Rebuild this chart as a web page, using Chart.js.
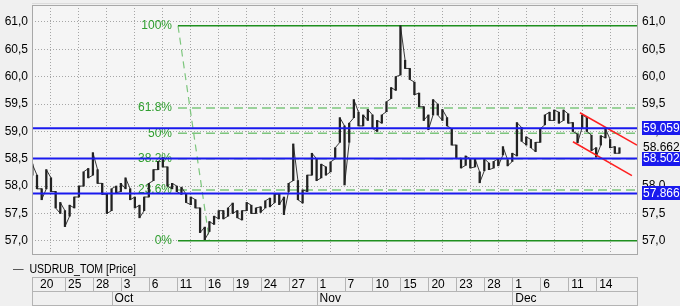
<!DOCTYPE html>
<html><head><meta charset="utf-8">
<script src="https://cdn.jsdelivr.net/npm/chart.js@4.4.0/dist/chart.umd.min.js"></script>
<style>
html,body{margin:0;padding:0;background:#f0f0f0;}
#wrap{position:relative;width:680px;height:306px;overflow:hidden;}
#legend{position:absolute;left:13px;top:262px;font:12px "Liberation Sans",Arial,sans-serif;color:#000;white-space:nowrap;transform:scaleX(0.88);transform-origin:0 0;}
#legend span{color:#444;}
</style></head><body>
<div id="wrap"><canvas id="c" width="680" height="306"></canvas><div id="legend"><span>—</span>&nbsp;&nbsp;USDRUB_TOM [Price]</div></div>
<script>
// ---- data ----
const dayLabels = ['20','25','28','3','6','11','16','19','24','27','1','7','10','15','20','23','28','1','6','11','14'];
const dayTicks = [0,3,6,9,12,15,18,21,24,27,30,33,36,39,42,45,48,51,54,57,60]; // trading-day index
const monthLabels = ['Oct','Nov','Dec'];
const monthTicks = [8,30,51];
const yTicks = [57,57.5,58,58.5,59,59.5,60,60.5,61];
const barStart = -0.5, barStep = 0.5; // half trading day per bar
const lows = [58.2,57.95,57.75,57.95,57.9,57.6,57.5,57.26,57.45,57.6,57.8,58.0,58.15,58.2,58.05,57.85,57.5,57.55,57.88,57.9,57.95,57.75,57.6,57.42,57.55,57.8,58.1,58.3,58.35,58.0,57.95,57.9,
57.85,57.7,57.66,57.6,57.15,57.02,57.17,57.3,57.4,57.4,57.45,57.5,57.42,57.38,57.55,57.5,57.5,57.52,57.6,57.62,57.7,57.66,57.48,57.9,58.1,57.75,57.69,57.9,58.2,58.1,58.15,
58.2,58.26,58.5,58.8,58.02,58.8,59.25,59.1,59.1,59.2,59.05,59.0,59.15,59.36,59.6,59.75,60.03,60.15,59.95,59.67,59.45,59.2,59.03,59.3,59.3,59.2,59.1,58.75,58.5,58.33,58.38,58.33,
58.35,58.06,58.28,58.3,58.33,58.37,58.57,58.37,58.45,58.55,58.82,58.75,58.7,58.63,58.8,59.12,59.2,59.2,59.15,59.2,59.15,59.0,58.79,59.07,59.0,58.65,58.53,58.75,58.88,58.7,58.6,58.6];
const highs = [58.4,58.2,57.95,58.3,58.15,57.9,57.7,57.55,57.65,57.8,58.0,58.26,58.32,58.61,58.3,58.05,57.85,57.95,58.0,58.05,58.15,57.95,57.8,57.65,57.8,58.05,58.3,58.45,58.52,58.35,58.05,58.0,
57.98,57.85,57.8,57.75,57.6,57.25,57.35,57.45,57.55,57.55,57.6,57.69,57.55,57.55,57.7,57.65,57.6,57.62,57.73,57.78,57.85,57.85,57.8,58.05,58.77,58.1,57.93,58.2,58.6,58.5,58.4,
58.35,58.44,58.7,59.25,59.1,59.15,59.58,59.35,59.3,59.4,59.3,59.2,59.3,59.54,59.8,60.0,60.93,60.3,60.15,59.9,59.7,59.45,59.3,59.58,59.5,59.4,59.25,59.05,58.75,58.51,58.55,58.5,
58.5,58.26,58.5,58.42,58.45,58.5,58.72,58.48,58.6,59.16,59.07,58.9,58.85,58.8,59.05,59.3,59.35,59.39,59.35,59.39,59.32,59.16,58.95,59.3,59.25,58.93,58.7,58.92,59.05,58.85,58.72,58.7];
const levels = [59.059, 58.502, 57.866];
const lastPrice = 58.662;
const fibLow = 57.0, fibHigh = 60.93;
const fibStart = 15.13, fibDiagEnd = 18.5;
const fibPercents = [0, 23.6, 38.2, 50, 61.8, 100];
const channelUpper = [[58.26, 59.34], [64.38, 58.75]];
const channelLower = [[57.51, 58.81], [63.84, 58.19]];
const xMin = -0.536, xMax = 64.49, yMin = 56.74, yMax = 61.31;

// ---- build ----
const FONT = '"Liberation Sans", Arial, sans-serif';
const fibVal = p => fibLow + (fibHigh - fibLow) * p / 100;
const seg = (x0, y0, x1, y1) => [{x:x0, y:y0}, {x:x1, y:y1}];
const lineDs = (data, color, width, dash, order) => ({type:'line', data, borderColor:color, borderWidth:width, borderDash:dash, pointRadius:0, fill:false, order, tension:0});

// price trace: walk through each bar's low/high, entering from the side nearer the previous point
const trace = [];
let prev = null;
lows.forEach((lo, i) => {
  const hi = highs[i], x = barStart + i * barStep;
  const downFirst = prev !== null && Math.abs(prev - hi) < Math.abs(prev - lo);
  const a = downFirst ? hi : lo, b = downFirst ? lo : hi;
  trace.push({x, y:a}, {x, y:b});
  prev = b;
});

const datasets = [];
datasets.push({type:'bar', data: lows.map((lo,i)=>({x: barStart + i*barStep, y:[lo, highs[i]]})), backgroundColor:'#222', borderWidth:0, barThickness:1.6, order:2});
datasets.push(lineDs(trace, '#222', 0.9, [], 2));
levels.forEach(v => datasets.push(lineDs(seg(xMin, v, xMax, v), '#1a1aee', 2, [], 0)));
datasets.push(lineDs(seg(channelUpper[0][0], channelUpper[0][1], channelUpper[1][0], channelUpper[1][1]), '#ff2020', 1.5, [], 1));
datasets.push(lineDs(seg(channelLower[0][0], channelLower[0][1], channelLower[1][0], channelLower[1][1]), '#ff2020', 1.5, [], 1));
fibPercents.forEach(p => {
  const solid = (p === 0 || p === 100);
  datasets.push(lineDs(seg(fibStart, fibVal(p), xMax, fibVal(p)), solid ? '#1f8f1f' : '#7dc67d', 1.5, solid ? [] : [9,5], 3));
});
datasets.push(lineDs(seg(fibStart, fibHigh, fibDiagEnd, fibLow), '#7dc67d', 1.2, [7,5], 3));

const fmt = v => v.toFixed(1).replace('.', ',');

const decor = {
  id: 'decor',
  beforeDraw(chart) {
    const {ctx, chartArea:a} = chart;
    ctx.save();
    ctx.fillStyle = '#f5f5f5';
    ctx.fillRect(a.left, a.top, a.right - a.left, a.bottom - a.top);
    ctx.restore();
  },
  beforeDatasetsDraw(chart) {
    const {ctx} = chart, xs = chart.scales.x, ys = chart.scales.y;
    ctx.save();
    ctx.font = '12px ' + FONT;
    ctx.fillStyle = '#2e9e2e';
    ctx.textAlign = 'right'; ctx.textBaseline = 'middle';
    const xp = xs.getPixelForValue(fibStart) - 6;
    fibPercents.forEach(p => ctx.fillText(p + '%', xp, ys.getPixelForValue(fibVal(p))));
    ctx.restore();
  },
  afterDraw(chart) {
    const {ctx, chartArea:a} = chart, xs = chart.scales.x, x2 = chart.scales.x2, ys = chart.scales.y;
    ctx.save();
    // plot border
    ctx.strokeStyle = '#a8a8a8'; ctx.lineWidth = 1;
    ctx.strokeRect(a.left + 0.5, a.top + 0.5, a.right - a.left - 1, a.bottom - a.top - 1);
    ctx.strokeStyle = '#dcdcdc';
    ctx.beginPath(); ctx.moveTo(a.left, a.top - 1.5); ctx.lineTo(a.right, a.top - 1.5); ctx.stroke();
    // date table
    const r1 = Math.round(xs.bottom - 14) + 0.5, r2 = Math.round(xs.bottom) + 0.5, r3 = Math.round(x2.bottom) - 0.5;
    ctx.strokeStyle = '#b4b4b4';
    ctx.beginPath();
    [r1, r2, r3].forEach(y => { ctx.moveTo(a.left, y); ctx.lineTo(a.right, y); });
    ctx.moveTo(a.left + 0.5, r1); ctx.lineTo(a.left + 0.5, r3);
    ctx.moveTo(a.right - 0.5, r1); ctx.lineTo(a.right - 0.5, r3);
    dayTicks.forEach(v => { const p = Math.round(xs.getPixelForValue(v)) + 0.5; if (p > a.left + 6) { ctx.moveTo(p, r1); ctx.lineTo(p, r2); } });
    monthTicks.forEach(v => { const p = Math.round(xs.getPixelForValue(v)) + 0.5; ctx.moveTo(p, r2); ctx.lineTo(p, r3); });
    ctx.stroke();
    // price tags
    ctx.font = '12px ' + FONT; ctx.textBaseline = 'middle'; ctx.textAlign = 'left';
    ctx.fillStyle = '#000';
    ctx.fillText(lastPrice.toFixed(3), a.right + 5, ys.getPixelForValue(lastPrice) - 2);
    levels.forEach(v => {
      const y = ys.getPixelForValue(v);
      ctx.fillStyle = '#1a1aee';
      ctx.fillRect(a.right + 4, Math.round(y) - 7, 38, 14);
      ctx.fillStyle = '#fff';
      ctx.fillText(v.toFixed(3), a.right + 5, y + 0.5);
    });
    ctx.restore();
  }
};

new Chart(document.getElementById('c'), {
  type: 'bar',
  data: { datasets },
  options: {
    responsive: false, animation: false, devicePixelRatio: 1,
    layout: { padding: { top: 5, left: 0, right: 0, bottom: 0 } },
    plugins: { legend: { display: false }, tooltip: { enabled: false } },
    scales: {
      x: {
        type: 'linear', position: 'bottom', min: xMin, max: xMax, offset: false,
        afterBuildTicks: s => { s.ticks = dayTicks.map(v => ({value: v})); },
        afterFit: s => { s.height = 36; s.paddingLeft = 0; s.paddingRight = 0; },
        grid: { color: '#a6a6a6', lineWidth: 1, drawTicks: false, drawOnChartArea: true },
        border: { display: false, dash: [1, 2] },
        ticks: { autoSkip: false, maxRotation: 0, minRotation: 0, align: 'start', labelOffset: 3, padding: 22,
                 font: { family: FONT, size: 12 }, color: '#000', callback: (v, i) => dayLabels[i] }
      },
      x2: {
        type: 'linear', position: 'bottom', min: xMin, max: xMax, offset: false,
        afterBuildTicks: s => { s.ticks = monthTicks.map(v => ({value: v})); },
        afterFit: s => { s.height = 15; s.paddingLeft = 0; s.paddingRight = 0; },
        grid: { display: false, drawTicks: false }, border: { display: false },
        ticks: { autoSkip: false, maxRotation: 0, minRotation: 0, align: 'start', labelOffset: 3, padding: 0,
                 font: { family: FONT, size: 12 }, color: '#000', callback: (v, i) => monthLabels[i] }
      },
      y: {
        type: 'linear', position: 'left', min: yMin, max: yMax,
        afterBuildTicks: s => { s.ticks = yTicks.map(v => ({value: v})); },
        afterFit: s => { s.width = 32; s.paddingTop = 0; s.paddingBottom = 0; },
        grid: { color: '#a6a6a6', lineWidth: 1, drawTicks: false },
        border: { display: false, dash: [1, 2] },
        ticks: { padding: 4, font: { family: FONT, size: 12 }, color: '#000', callback: v => fmt(v) }
      },
      y2: {
        type: 'linear', position: 'right', min: yMin, max: yMax,
        afterBuildTicks: s => { s.ticks = yTicks.map(v => ({value: v})); },
        afterFit: s => { s.width = 42; s.paddingTop = 0; s.paddingBottom = 0; },
        grid: { display: false, drawTicks: false }, border: { display: false },
        ticks: { padding: 4, font: { family: FONT, size: 12 }, color: '#000', callback: v => fmt(v) }
      }
    }
  },
  plugins: [decor]
});
</script>
</body></html>
